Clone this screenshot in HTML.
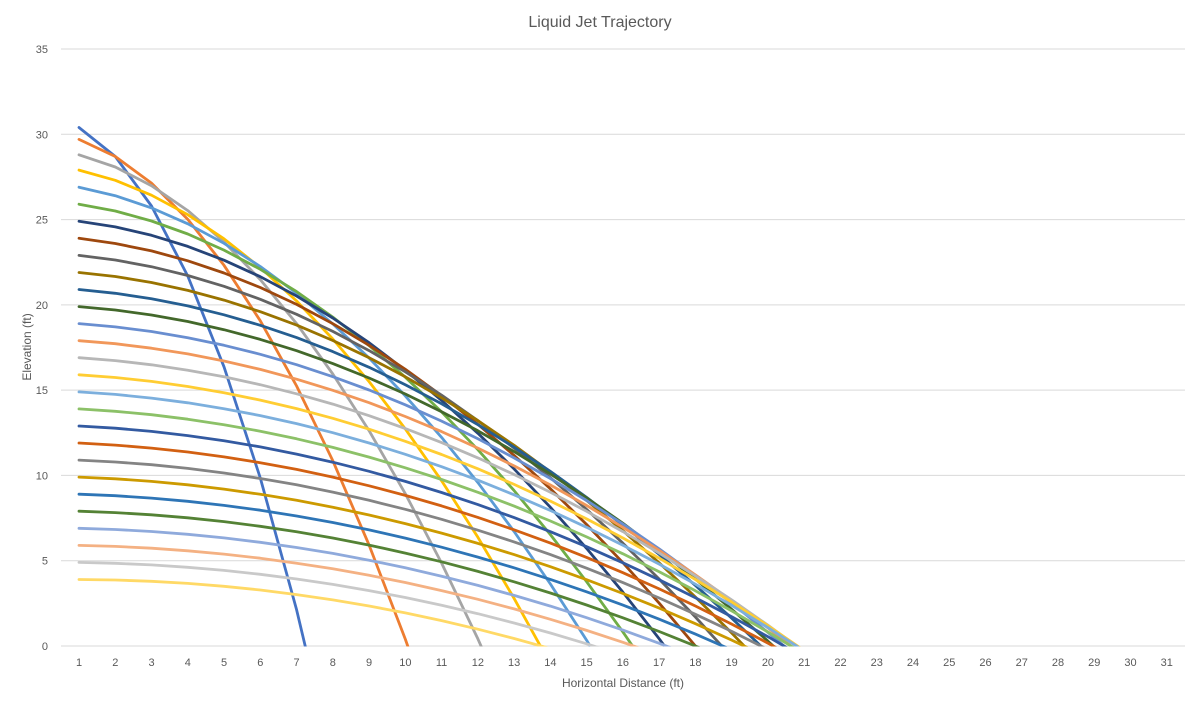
<!DOCTYPE html>
<html><head><meta charset="utf-8"><style>
html,body{margin:0;padding:0;background:#fff;width:1200px;height:707px;overflow:hidden;}
svg{display:block;font-family:"Liberation Sans",sans-serif;}
</style>
<script>
document.addEventListener('DOMContentLoaded',function(){
var NS="http://www.w3.org/2000/svg";
var svg=document.getElementById('c'),grid=document.getElementById('grid'),ser=document.getElementById('series');
function el(n,a,p){var e=document.createElementNS(NS,n);for(var k in a)e.setAttribute(k,a[k]);(p||svg).appendChild(e);return e;}
function Y(v){return 646-v*17.057;}
function X(c){return 79+(c-1)*36.26;}
for(var v=0;v<=35;v+=5){
 el('line',{x1:61,x2:1185,y1:Y(v),y2:Y(v),stroke:'#d9d9d9','stroke-width':1},grid);
 var t=el('text',{x:48,y:Y(v)+4,'text-anchor':'end','font-size':11,fill:'#595959'},grid);t.textContent=v;
}
for(var c=1;c<=31;c++){var t=el('text',{x:X(c),y:666,'text-anchor':'middle','font-size':11,fill:'#595959'},grid);t.textContent=c;}
var data=[
[30.4,6.25,1.7,'#4472C4'],[29.7,9.07,1.0,'#ED7D31'],[28.8,11.09,0.72,'#A5A5A5'],[27.9,12.73,0.6,'#FFC000'],
[26.9,14.1,0.5,'#5B9BD5'],[25.9,15.27,0.4,'#70AD47'],[24.9,16.15,0.33,'#264478'],[23.9,17.0,0.3,'#9E480E'],
[22.9,17.73,0.27,'#636363'],[21.9,18.35,0.24,'#997300'],[20.9,18.81,0.22,'#255E91'],[19.9,19.15,0.2,'#43682B'],
[18.9,19.45,0.19,'#698ED0'],[17.9,19.64,0.18,'#F1975A'],[16.9,19.79,0.17,'#B7B7B7'],[15.9,19.82,0.16,'#FFCD33'],
[14.9,19.79,0.15,'#7CAFDD'],[13.9,19.64,0.14,'#8CC168'],[12.9,19.45,0.13,'#335AA1'],[11.9,19.15,0.12,'#D26012'],
[10.9,18.81,0.11,'#848484'],[9.9,18.35,0.1,'#CC9A00'],[8.9,17.76,0.09,'#2E75B6'],[7.9,17.0,0.08,'#548235'],
[6.9,16.2,0.07,'#8FAADC'],[5.9,15.3,0.06,'#F4B183'],[4.9,14.2,0.05,'#C9C9C9'],[3.9,12.75,0.03,'#FFD966']];
data.forEach(function(d){
 var h=d[0],T=d[1],d1=d[2];
 var b=(h-d1*T)/(T*T-T),a=d1-b;
 var pts=[];
 for(var t=0;t<=30;t++){var y=h-a*t-b*t*t;pts.push(X(t+1).toFixed(1)+','+Y(y).toFixed(1));if(y<0)break;}
 el('polyline',{points:pts.join(' '),fill:'none',stroke:d[3],'stroke-width':2.8,'stroke-linejoin':'round','stroke-linecap':'round'},ser);
});
});
</script>
</head><body><svg id="c" width="1200" height="707" viewBox="0 0 1200 707" xmlns="http://www.w3.org/2000/svg">
<rect x="0" y="0" width="1200" height="707" fill="#fff"/>
<text x="600" y="27" text-anchor="middle" font-size="16" fill="#595959">Liquid Jet Trajectory</text>
<defs><clipPath id="pc"><rect x="61" y="40" width="1124" height="606.5"/></clipPath></defs>
<g id="grid"></g>
<g id="series" clip-path="url(#pc)"></g>
<text x="623" y="687" text-anchor="middle" font-size="12" fill="#595959">Horizontal Distance (ft)</text>
<text transform="translate(31,347) rotate(-90)" text-anchor="middle" font-size="12" fill="#595959">Elevation (ft)</text>
</svg></body></html>
